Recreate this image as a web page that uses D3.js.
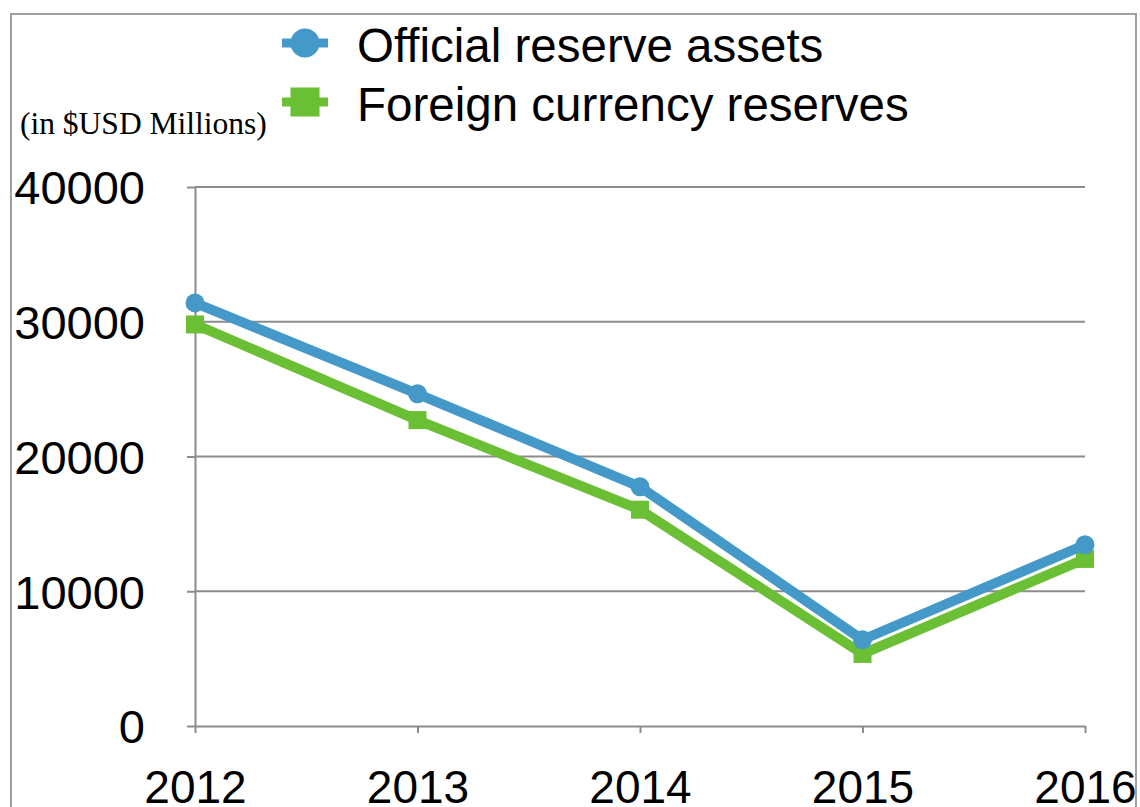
<!DOCTYPE html>
<html>
<head>
<meta charset="utf-8">
<script src="https://cdn.jsdelivr.net/npm/d3@7"></script>
<style>
  body { margin: 0; background: #fff; }
  svg { display: block; }
  .axis text { font-family: "Liberation Sans", Arial, Helvetica, sans-serif; fill: #000; }
  .axis line, .axis path { stroke: #8c8c8c; stroke-width: 2; }
</style>
</head>
<body>
<div id="chart"></div>
<script>
// data
const years = ["2012", "2013", "2014", "2015", "2016"];
const officialReserves = [31400, 24650, 17750, 6400, 13450];
const foreignCurrency = [29800, 22700, 16050, 5350, 12400];
const yTicks = [0, 10000, 20000, 30000, 40000];
const seriesNames = ["Official reserve assets", "Foreign currency reserves"];

const width = 1140;
const height = 807;

const x = d3.scalePoint().domain(years).range([195, 1085]);
const y = d3.scaleLinear().domain([0, 40000]).range([726, 187]);

const svg = d3.select("#chart")
  .append("svg")
  .attr("width", width)
  .attr("height", height);

// outer frame (left, top, right)
svg.append("path")
  .attr("d", "M11,807V14H1136V807")
  .attr("fill", "none")
  .attr("stroke", "#a0a0a0")
  .attr("stroke-width", 2);

// gridlines
svg.append("g")
  .selectAll("line")
  .data(yTicks.filter(d => d > 0))
  .enter()
  .append("line")
    .attr("x1", x(years[0]))
    .attr("x2", x(years[years.length - 1]))
    .attr("y1", d => y(d))
    .attr("y2", d => y(d))
    .attr("stroke", "#8c8c8c")
    .attr("stroke-width", 2);

// y axis
svg.append("g")
  .attr("class", "axis")
  .attr("transform", `translate(${x(years[0])},0)`)
  .call(d3.axisLeft(y)
    .tickValues(yTicks)
    .tickFormat(d => d)
    .tickSize(8)
    .tickSizeOuter(0)
    .tickPadding(42))
  .call(g => g.selectAll("text").attr("font-size", 47).attr("dy", "0.36em"));

// x axis
svg.append("g")
  .attr("class", "axis")
  .attr("transform", `translate(0,${y(0)})`)
  .call(d3.axisBottom(x)
    .tickSize(7)
    .tickSizeOuter(0)
    .tickPadding(37))
  .call(g => g.selectAll("text").attr("font-size", 46));

const series = [
  { name: seriesNames[1], values: foreignCurrency, color: "#6abf35", shape: "square" },
  { name: seriesNames[0], values: officialReserves, color: "#4599c8", shape: "circle" }
];

const line = d3.line()
  .x((d, i) => x(years[i]))
  .y(d => y(d));

const marks = svg.append("g");
series.forEach(s => {
  marks.append("path")
    .attr("d", line(s.values))
    .attr("fill", "none")
    .attr("stroke", s.color)
    .attr("stroke-width", 10)
    .attr("stroke-linejoin", "round");

  if (s.shape === "circle") {
    marks.selectAll(null)
      .data(s.values)
      .enter()
      .append("circle")
        .attr("cx", (d, i) => x(years[i]))
        .attr("cy", d => y(d))
        .attr("r", 9.5)
        .attr("fill", s.color);
  } else {
    marks.selectAll(null)
      .data(s.values)
      .enter()
      .append("rect")
        .attr("x", (d, i) => x(years[i]) - 9)
        .attr("y", d => y(d) - 9)
        .attr("width", 18)
        .attr("height", 18)
        .attr("fill", s.color);
  }
});

// legend
const legend = svg.append("g")
  .selectAll("g")
  .data(series.slice().reverse())
  .enter()
  .append("g")
    .attr("transform", (d, i) => `translate(305,${43 + i * 59})`);

legend.append("line")
  .attr("x1", -23)
  .attr("x2", 23)
  .attr("stroke", d => d.color)
  .attr("stroke-width", 9);

legend.filter(d => d.shape === "circle")
  .append("circle")
    .attr("r", 14.5)
    .attr("fill", d => d.color);

legend.filter(d => d.shape === "square")
  .append("rect")
    .attr("x", -14.5)
    .attr("y", -14.5)
    .attr("width", 29)
    .attr("height", 29)
    .attr("fill", d => d.color);

legend.append("text")
  .attr("x", 52)
  .attr("y", 19)
  .attr("font-family", "'Liberation Sans', Arial, Helvetica, sans-serif")
  .attr("font-size", 47.5)
  .text(d => d.name);

// unit note
svg.append("text")
  .attr("x", 20)
  .attr("y", 134)
  .attr("font-family", "'Liberation Serif', 'Times New Roman', serif")
  .attr("font-size", 31.5)
  .text("(in $USD Millions)");
</script>
</body>
</html>
